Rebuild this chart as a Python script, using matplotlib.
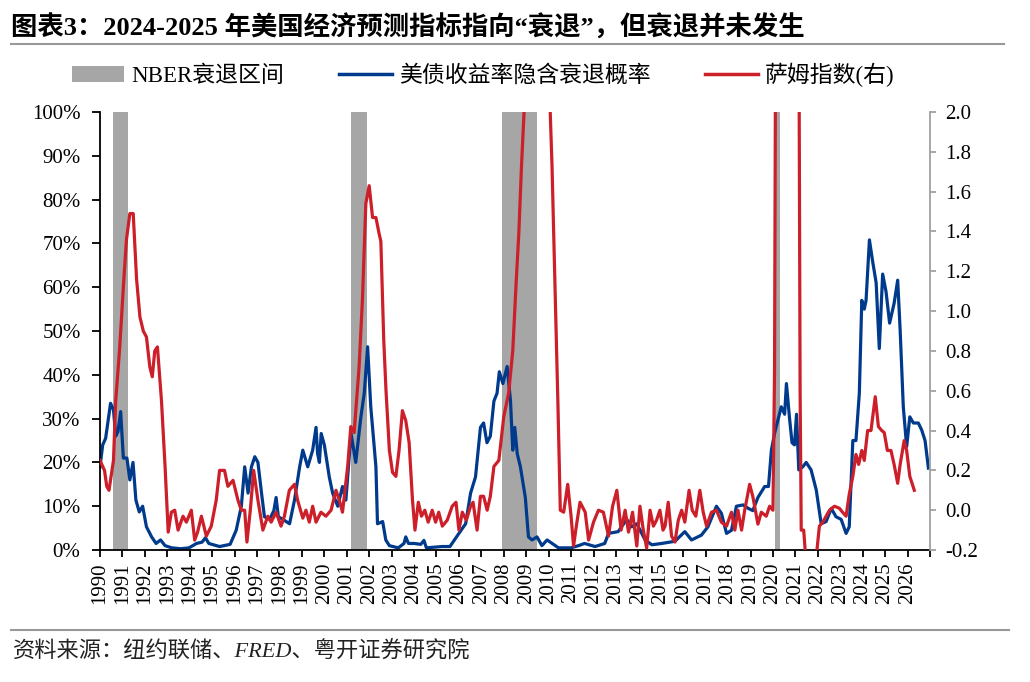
import numpy as np
import matplotlib
matplotlib.use("Agg")
import matplotlib.pyplot as plt
from matplotlib.patches import Patch
from matplotlib.lines import Line2D

plt.rcParams["font.family"] = ["Liberation Serif", "Noto Sans CJK SC"]
plt.rcParams["axes.unicode_minus"] = False

title = "图表3：2024-2025 年美国经济预测指标指向“衰退”，但衰退并未发生"
source = "资料来源：纽约联储、FRED、粤开证券研究院"
label_nber = "NBER衰退区间"
label_prob = "美债收益率隐含衰退概率"
label_sahm = "萨姆指数(右)"

# NBER recession periods (start, end) in fractional years
nber_start = [1990.56, 2001.17, 2007.92, 2020.08]
nber_end = [1991.25, 2001.92, 2009.50, 2020.33]

# recession probability implied by treasury spread, %
prob_t = [1990.00, 1990.12, 1990.25, 1990.47, 1990.60, 1990.70, 1990.80, 1990.92,
          1991.04, 1991.20, 1991.33, 1991.47, 1991.60, 1991.75, 1991.90, 1992.07,
          1992.30, 1992.50, 1992.70, 1992.90, 1993.20, 1993.60, 1993.97, 1994.30,
          1994.55, 1994.70, 1994.85, 1995.33, 1995.80, 1996.07, 1996.30, 1996.45,
          1996.60, 1996.75, 1996.90, 1997.04, 1997.20, 1997.33, 1997.56, 1997.75,
          1997.85, 1997.95, 1998.15, 1998.45, 1998.67, 1998.90, 1999.04, 1999.26,
          1999.48, 1999.63, 1999.70, 1999.78, 1999.86, 2000.00, 2000.22, 2000.37,
          2000.60, 2000.81, 2000.96, 2001.19, 2001.40, 2001.63, 2001.78, 2001.93,
          2002.07, 2002.30, 2002.37, 2002.60, 2002.74, 2002.90, 2003.30, 2003.55,
          2003.63, 2003.75, 2004.00, 2004.30, 2004.44, 2004.55, 2005.25, 2005.60,
          2006.00, 2006.30, 2006.52, 2006.74, 2006.96, 2007.10, 2007.25, 2007.40,
          2007.56, 2007.70, 2007.80, 2007.96, 2008.15, 2008.30, 2008.40, 2008.49,
          2008.60, 2008.74, 2008.96, 2009.10, 2009.26, 2009.48, 2009.70, 2009.93,
          2010.44, 2011.00, 2011.33, 2011.60, 2012.07, 2012.50, 2012.67, 2013.10,
          2013.48, 2013.70, 2013.93, 2014.30, 2014.60, 2015.04, 2015.63, 2016.07,
          2016.37, 2016.81, 2017.10, 2017.48, 2017.70, 2017.93, 2018.15, 2018.37,
          2018.67, 2018.90, 2019.10, 2019.33, 2019.63, 2019.80, 2019.93, 2020.07,
          2020.37, 2020.52, 2020.60, 2020.74, 2020.85, 2020.96, 2021.05, 2021.15,
          2021.33, 2021.48, 2021.70, 2021.93, 2022.15, 2022.37, 2022.60, 2022.81,
          2023.04, 2023.26, 2023.40, 2023.56, 2023.70, 2023.85, 2023.96, 2024.07,
          2024.15, 2024.30, 2024.44, 2024.60, 2024.74, 2024.89, 2025.04, 2025.20,
          2025.40, 2025.56, 2025.67, 2025.81, 2025.96, 2026.10, 2026.26, 2026.48,
          2026.63, 2026.78, 2026.93]
prob_v = [19.0, 24.0, 25.5, 33.5, 32.0, 26.0, 27.0, 31.6,
          21.0, 21.0, 16.0, 20.0, 11.4, 8.7, 10.0, 5.3,
          3.0, 1.5, 2.3, 1.0, 0.5, 0.3, 0.5, 1.5,
          1.8, 2.8, 1.5, 0.8, 1.3, 4.5, 10.0, 19.0,
          13.0, 19.0, 21.3, 20.0, 13.0, 7.6, 7.0, 9.0,
          12.0, 7.6, 7.0, 6.0, 11.4, 19.0, 22.8, 19.0,
          22.8, 28.0, 22.0, 20.0, 26.6, 24.0, 16.7, 13.0,
          10.0, 14.5, 11.4, 26.6, 20.0, 30.4, 35.8, 46.4,
          32.7, 19.0, 6.0, 6.5, 2.3, 1.0, 0.5, 1.5,
          3.0, 1.5, 1.5, 1.3, 2.2, 0.5, 0.8, 0.8,
          3.8, 6.0, 13.0, 16.7, 28.0, 29.0, 24.5, 26.0,
          34.0, 35.8, 40.7, 38.0, 41.9, 34.0, 22.8, 28.0,
          22.0, 19.0, 12.0, 3.0, 2.3, 3.0, 1.0, 2.3,
          0.5, 0.5, 1.0, 1.5, 0.8, 1.5, 3.8, 4.2,
          7.0, 5.3, 6.0, 2.3, 1.2, 1.5, 2.0, 4.2,
          2.3, 3.4, 5.3, 10.0, 8.4, 3.8, 4.5, 10.0,
          10.3, 9.5, 9.0, 12.0, 14.5, 14.5, 22.8, 26.6,
          32.7, 31.0, 38.0, 30.0, 24.5, 24.0, 31.0, 18.3,
          19.0, 20.0, 18.3, 13.7, 6.0, 6.5, 9.5, 7.6,
          7.0, 3.8, 5.3, 25.0, 25.0, 35.8, 57.0, 55.0,
          57.0, 70.8, 66.0, 61.0, 46.0, 63.0, 59.0, 51.8,
          56.3, 61.6, 50.2, 32.7, 23.6, 30.4, 29.0, 29.0,
          27.4, 25.0, 18.7]

# Sahm rule indicator (right axis)
sahm_t = [1990.00, 1990.20, 1990.30, 1990.40, 1990.60, 1990.70, 1990.88, 1991.04,
          1991.18, 1991.33, 1991.48, 1991.63, 1991.78, 1991.93, 1992.07, 1992.22,
          1992.33, 1992.44, 1992.56, 1992.74, 1992.90, 1993.04, 1993.18, 1993.33,
          1993.48, 1993.70, 1993.85, 1994.07, 1994.22, 1994.35, 1994.52, 1994.74,
          1994.96, 1995.18, 1995.33, 1995.55, 1995.70, 1995.93, 1996.15, 1996.30,
          1996.45, 1996.55, 1996.70, 1996.85, 1997.04, 1997.26, 1997.48, 1997.63,
          1997.85, 1998.07, 1998.22, 1998.44, 1998.67, 1998.81, 1999.04, 1999.18,
          1999.33, 1999.48, 1999.63, 1999.85, 2000.07, 2000.30, 2000.52, 2000.67,
          2000.81, 2001.04, 2001.18, 2001.33, 2001.55, 2001.70, 2001.85, 2002.00,
          2002.15, 2002.30, 2002.44, 2002.52, 2002.65, 2002.75, 2002.90, 2003.04,
          2003.19, 2003.33, 2003.48, 2003.63, 2003.78, 2003.93, 2004.04, 2004.19,
          2004.33, 2004.48, 2004.63, 2004.81, 2004.96, 2005.10, 2005.26, 2005.48,
          2005.70, 2005.87, 2006.00, 2006.15, 2006.33, 2006.52, 2006.63, 2006.81,
          2006.96, 2007.10, 2007.26, 2007.40, 2007.56, 2007.78, 2008.00, 2008.22,
          2008.40, 2008.55, 2008.67, 2008.79, 2008.90, 2009.10, 2009.50, 2009.80,
          2010.07, 2010.15, 2010.30, 2010.41, 2010.52, 2010.67, 2010.85, 2011.00,
          2011.11, 2011.26, 2011.40, 2011.63, 2011.78, 2012.00, 2012.22, 2012.44,
          2012.67, 2012.85, 2013.04, 2013.23, 2013.41, 2013.56, 2013.74, 2013.93,
          2014.07, 2014.22, 2014.37, 2014.52, 2014.67, 2014.81, 2014.96, 2015.10,
          2015.19, 2015.33, 2015.48, 2015.63, 2015.78, 2015.93, 2016.07, 2016.26,
          2016.40, 2016.56, 2016.74, 2016.89, 2017.04, 2017.26, 2017.48, 2017.70,
          2017.93, 2018.15, 2018.30, 2018.44, 2018.60, 2018.74, 2018.96, 2019.10,
          2019.33, 2019.48, 2019.70, 2019.85, 2020.00, 2020.07, 2020.12, 2020.30,
          2020.80, 2021.10, 2021.17, 2021.21, 2021.26, 2021.37, 2021.50, 2021.70,
          2021.96, 2022.07, 2022.22, 2022.37, 2022.52, 2022.74, 2022.96, 2023.10,
          2023.26, 2023.40, 2023.56, 2023.70, 2023.82, 2023.96, 2024.07, 2024.22,
          2024.37, 2024.56, 2024.70, 2024.85, 2024.96, 2025.10, 2025.26, 2025.40,
          2025.56, 2025.67, 2025.85, 2025.96, 2026.10, 2026.30]
sahm_v = [0.25, 0.20, 0.12, 0.10, 0.25, 0.55, 0.82, 1.12,
          1.36, 1.49, 1.49, 1.16, 0.97, 0.90, 0.87, 0.72,
          0.67, 0.80, 0.82, 0.55, 0.22, -0.11, -0.01, 0.00,
          -0.10, -0.03, -0.06, 0.00, -0.15, -0.11, -0.03, -0.13,
          -0.08, 0.05, 0.20, 0.20, 0.12, 0.15, 0.05, 0.00,
          0.00, -0.16, 0.00, 0.20, 0.05, -0.10, -0.03, -0.06,
          -0.01, -0.08, -0.03, 0.10, 0.13, 0.05, -0.04, 0.00,
          -0.06, 0.02, -0.06, -0.01, -0.03, 0.00, 0.10, 0.05,
          -0.01, 0.22, 0.42, 0.39, 0.72, 1.06, 1.54, 1.63,
          1.47, 1.47, 1.39, 1.35, 0.85, 0.60, 0.30, 0.19,
          0.17, 0.30, 0.50, 0.45, 0.34, 0.05, -0.10, 0.04,
          -0.03, 0.00, -0.06, 0.00, -0.06, -0.01, -0.08, -0.05,
          0.02, 0.04, -0.10, -0.01, -0.05, 0.02, 0.04, -0.10,
          0.07, 0.07, 0.00, 0.07, 0.22, 0.25, 0.47, 0.59,
          0.80, 1.14, 1.39, 1.73, 1.99, 2.80, 3.60, 3.00,
          2.00, 1.73, 1.06, 0.55, 0.00, -0.01, 0.13, -0.03,
          -0.18, -0.06, 0.04, -0.01, -0.15, -0.06, 0.00, -0.01,
          -0.13, 0.02, 0.10, -0.10, 0.00, -0.11, -0.01, -0.18,
          0.02, -0.10, -0.19, 0.00, -0.08, -0.05, 0.00, -0.10,
          -0.08, 0.04, -0.13, -0.16, -0.05, 0.00, -0.06, 0.10,
          0.00, -0.03, 0.10, -0.01, -0.08, -0.01, 0.00, -0.06,
          -0.08, -0.01, -0.10, 0.00, -0.10, 0.00, 0.13, 0.07,
          -0.07, -0.01, -0.03, 0.02, 0.00, 0.70, 2.50, 9.00,
          6.00, 3.00, 2.00, 0.60, -0.10, -0.10, -0.30, -0.45,
          -0.20, -0.08, -0.06, -0.03, 0.00, 0.02, 0.01, -0.01,
          -0.03, 0.08, 0.17, 0.28, 0.23, 0.30, 0.25, 0.40,
          0.40, 0.57, 0.42, 0.40, 0.39, 0.30, 0.30, 0.23,
          0.135, 0.23, 0.35, 0.30, 0.17, 0.10]

years = np.arange(1990, 2028)
year_labels = [str(y) for y in range(1990, 2027)] + [""]

blue = "#003a8c"
red = "#cc1f2a"
band = "#a6a6a6"

fig = plt.figure(figsize=(10.3, 6.82), dpi=100)
ax = fig.add_axes([0.0971, 0.1935, 0.8058, 0.6423])
ax2 = ax.twinx()

for s, e in zip(nber_start, nber_end):
    ax.axvspan(s, e, color=band, lw=0, zorder=0)
ax.plot(prob_t, prob_v, color=blue, lw=2.3, zorder=2)
ax2.plot(sahm_t, sahm_v, color=red, lw=2.3, zorder=3)

ax.set_xlim(1990, 2027)
ax.set_ylim(0, 100)
ax2.set_ylim(-0.2, 2.0)

ax.set_yticks(np.arange(0, 101, 10))
ax.set_yticklabels([f"{v}%" for v in range(0, 101, 10)])
ax2.set_yticks(np.arange(-0.2, 2.01, 0.2))
ax2.set_yticklabels([f"{v:.1f}" for v in np.arange(-0.2, 2.01, 0.2)])
ax.set_xticks(years)
ax.set_xticklabels(year_labels, rotation=90)

for a in (ax, ax2):
    a.spines["top"].set_visible(False)
ax.spines["right"].set_visible(False)
ax2.spines["left"].set_visible(False)
ax2.spines["bottom"].set_visible(False)
ax2.spines["right"].set_color("#a0a0a0")
ax2.spines["right"].set_linewidth(1.3)
ax.spines["left"].set_linewidth(1.3)
ax.spines["bottom"].set_linewidth(1.3)

ax.tick_params(axis="y", direction="out", length=6, width=1.3, pad=8, labelsize=15)
ax.tick_params(axis="x", direction="out", length=5, width=1.3, pad=4, labelsize=15)
ax2.tick_params(axis="y", direction="out", length=4, width=1.3, color="#a0a0a0",
                pad=7, labelsize=15)

handles = [Patch(facecolor=band, edgecolor="none"),
           Line2D([], [], color=blue, lw=2.5),
           Line2D([], [], color=red, lw=2.5)]
fig.legend(handles, [label_nber, label_prob, label_sahm], loc="center",
           bbox_to_anchor=(0.469, 0.89), ncol=3, frameon=False, fontsize=16.5,
           handlelength=2.3, handletextpad=0.3, columnspacing=2.4)

fig.text(0.0107, 0.960, title, fontsize=19, fontweight="bold", va="center", ha="left")
fig.add_artist(Line2D([0.0107, 0.975], [0.9355, 0.9355], color="#999999", lw=1.5,
                      transform=fig.transFigure))
fig.add_artist(Line2D([0.0107, 0.980], [0.0762, 0.0762], color="#999999", lw=1.5,
                      transform=fig.transFigure))
fig.text(0.0126, 0.044, source, fontsize=16, style="italic", va="center", ha="left",
         color="#222222")

fig.savefig("out.png", dpi=100)
